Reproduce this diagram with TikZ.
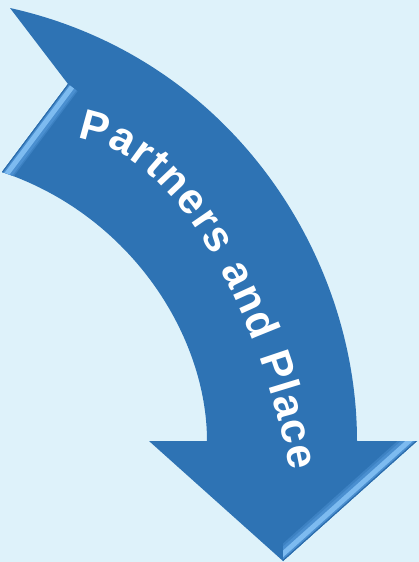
\documentclass[tikz,border=0pt]{standalone}
\usepackage{fontspec}
\setmainfont{Liberation Sans}
\usetikzlibrary{decorations.text,calc}
\definecolor{bg}{HTML}{DEF2FA}
\definecolor{arrowblue}{HTML}{2E73B4}
\definecolor{bevmid}{HTML}{4A8FD0}
\definecolor{bevlight}{HTML}{7DBBF0}
\definecolor{bevdark}{HTML}{2A6AA8}
\tikzset{
  arrowfill/.style={fill=arrowblue, draw=none},
  bevelband/.style={line width=#1, line cap=butt}
}
\begin{document}
\begin{tikzpicture}[x=1pt,y=-1pt]
\fill[bg] (0,0) rectangle (419,562);
\useasboundingbox (0,0) rectangle (419,562);
% arrow shape
\def\arrowpath{(10,8) .. controls (230,57) and (357,254) .. (357,441) -- (417,441) -- (283,561) -- (149,441) -- (207,441) .. controls (207,337) and (132,216) .. (2,172) -- (68,84) -- cycle}
\fill[arrowfill] \arrowpath;
% bevel along notch edge
\begin{scope}
\clip \arrowpath;
\clip (0,84) rectangle (120,200);
\draw[bevelband=24pt, bevmid!55!arrowblue] (68,84) -- (2,172);
\draw[bevelband=13pt, bevmid] ($(68,84)+(3.2,2.4)$) -- ($(2,172)+(3.2,2.4)$);
\draw[bevelband=5pt, bevlight] ($(68,84)+(4,3)$) -- ($(2,172)+(4,3)$);
\draw[bevelband=2pt, bevdark] (68,84) -- (2,172);
\end{scope}
% bevel along arrowhead right edge
\begin{scope}
\clip \arrowpath;
\clip (283,441) rectangle (419,562);
\draw[bevelband=26pt, bevmid!55!arrowblue] (417,441) -- (283,561);
\draw[bevelband=13pt, bevmid] ($(417,441)+(-2.8,-3.2)$) -- ($(283,561)+(-2.8,-3.2)$);
\draw[bevelband=5pt, bevlight] ($(417,441)+(-3.5,-4)$) -- ($(283,561)+(-3.5,-4)$);
\draw[bevelband=2pt, bevdark] (417,441) -- (283,561);
\end{scope}
% text along the curve
\path[decorate, decoration={text along path,
   text={|\fontsize{43}{43}\selectfont\bfseries|Partners and Place},
   text align=fit to path, text color=white}]
   (77,138) .. controls (187,153) and (266,338) .. (290,471);
\end{tikzpicture}
\end{document}
